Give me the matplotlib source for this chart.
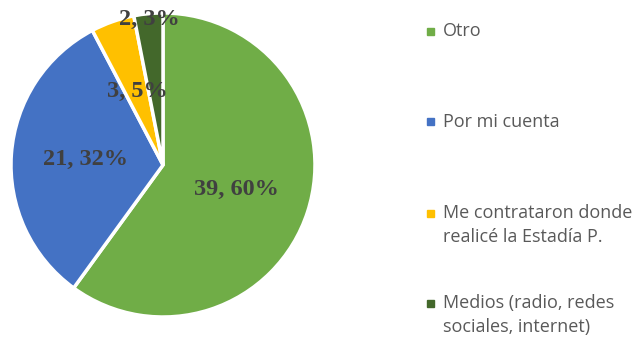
import matplotlib.pyplot as plt
from matplotlib.patches import Rectangle
import numpy as np

categories = ['Otro', 'Por mi cuenta', 'Me contrataron donde\nrealicé la Estadía P.',
              'Medios (radio, redes\nsociales, internet)']
values = [39, 21, 3, 2]
colors = ['#70AD47', '#4472C4', '#FFC000', '#43682B']
label_dist = [0.51, 0.51, 0.51, 0.96]
legend_y = [31, 122, 213, 303]

W, H = 642, 339
fig = plt.figure(figsize=(W / 100, H / 100), dpi=100)
cx, cy, r = 163, 165, 152
ax = fig.add_axes([(cx - r) / W, (H - cy - r) / H, 2 * r / W, 2 * r / H])

wedges, _ = ax.pie(values, colors=colors, startangle=90, counterclock=False,
                   wedgeprops=dict(edgecolor='white', linewidth=2.5))
ax.set_xlim(-1, 1)
ax.set_ylim(-1, 1)
ax.set_aspect('equal')

total = sum(values)
for w, v, d in zip(wedges, values, label_dist):
    ang = np.deg2rad((w.theta1 + w.theta2) / 2)
    pct = round(100 * v / total)
    ax.text(d * np.cos(ang), d * np.sin(ang), f'{v}, {pct}%',
            ha='center', va='center', fontsize=17.5, fontweight='bold',
            family='Liberation Serif', color='#404040')

# legend drawn by hand so the entries spread down the right side
for name, c, y in zip(categories, colors, legend_y):
    fig.patches.append(Rectangle(((430 - 3.5) / W, (H - y - 3.5) / H), 7 / W, 7 / H,
                                 transform=fig.transFigure, color=c))
    fig.text(443 / W, 1 - (y - 9) / H, name, ha='left', va='top',
             fontsize=13, family='Open Sans', color='#595959', linespacing=1.45)

fig.savefig('out.png', dpi=100)
